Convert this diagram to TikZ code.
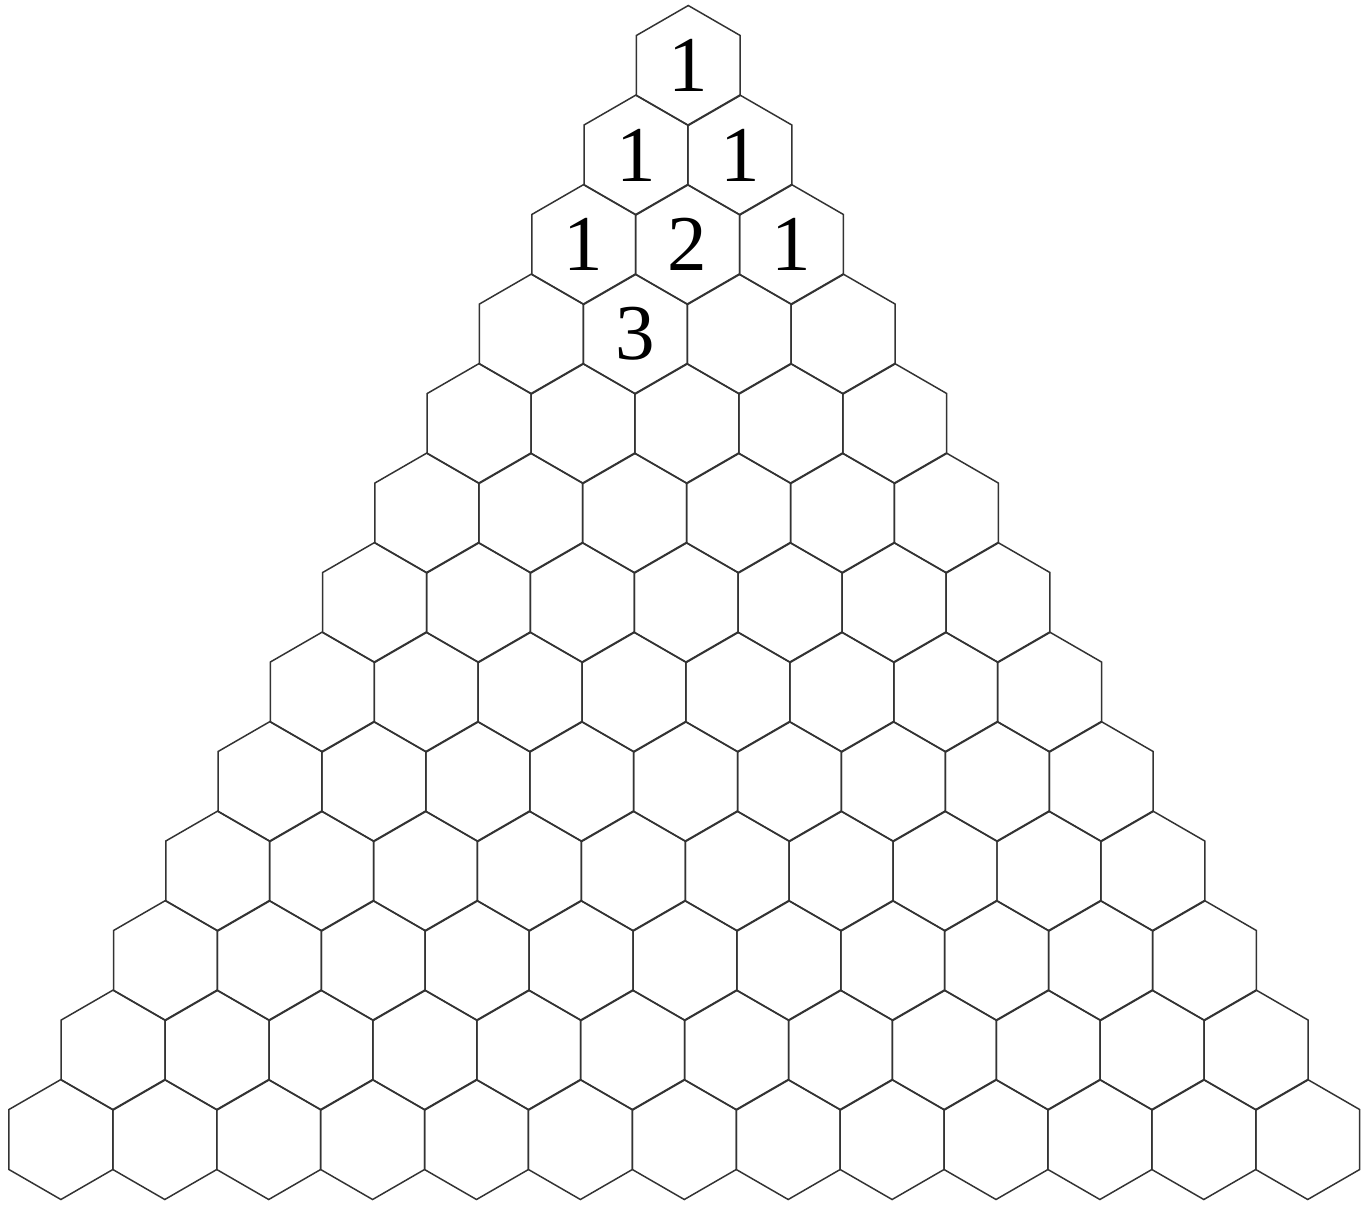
\documentclass[tikz,border=0pt]{standalone}
\usepackage{fontspec}
\setmainfont{Liberation Serif}
\usetikzlibrary{shapes.geometric}
\tikzset{
  hexcell/.style={regular polygon, regular polygon sides=6, shape border rotate=30, minimum size=2.4cm, inner sep=0pt, outer sep=0pt, draw=black!80, line width=0.85pt},
  entry/.style={font=\fontsize{45}{45}\selectfont, inner sep=0pt}
}
\begin{document}
\begin{tikzpicture}[x=0.02cm, y=-0.02cm]
  \useasboundingbox (0,0) rectangle (1363,1205);

  % rows of the triangle
  \foreach \r in {1,...,13}{
    \foreach \k in {1,...,\r}{
      \node (h-\r-\k) [hexcell] at ({684.3+(13-\r)*0.33+(\k-(\r+1)/2)*103.9}, {65.5+(\r-1)*89.5}) {};
    }
  }

  % numbers
  \node (n-1-1) [entry] at (h-1-1) {1};
  \node (n-2-1) [entry] at (h-2-1) {1};
  \node (n-2-2) [entry] at (h-2-2) {1};
  \node (n-3-1) [entry] at (h-3-1) {1};
  \node (n-3-2) [entry] at (h-3-2) {2};
  \node (n-3-3) [entry] at (h-3-3) {1};
  \node (n-4-2) [entry] at (h-4-2) {3};

\end{tikzpicture}
\end{document}
